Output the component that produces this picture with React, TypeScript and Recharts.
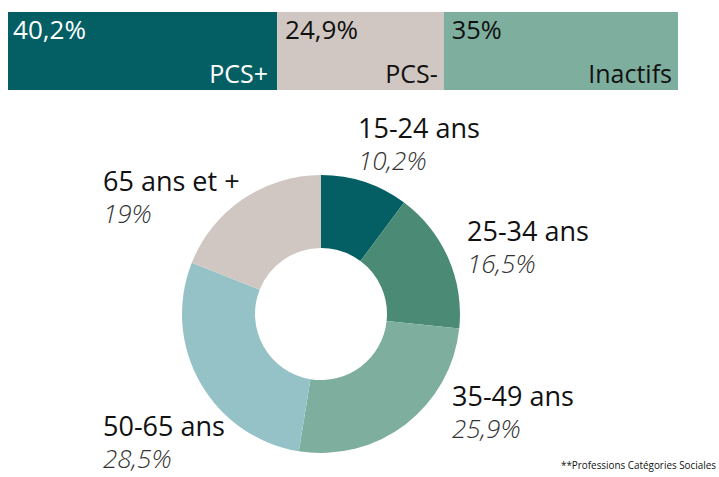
import React from 'react';
import { BarChart, Bar, XAxis, YAxis, PieChart, Pie, Cell } from 'recharts';

// top bar: PCS split
const pcsKeys = ['pcsPlus', 'pcsMinus', 'inactifs'];
const pcsNames = ['PCS+', 'PCS-', 'Inactifs'];
const pcsValues = [40.2, 24.9, 35];
const pcsLabels = ['40,2%', '24,9%', '35%'];

// donut: age groups
const ageNames = ['15-24 ans', '25-34 ans', '35-49 ans', '50-65 ans', '65 ans et +'];
const ageValues = [10.2, 16.5, 25.9, 28.5, 19];
const ageLabels = ['10,2%', '16,5%', '25,9%', '28,5%', '19%'];

const pcsColors = ['#035f63', '#d0c7c2', '#7eae9d'];
const pcsText = ['#ffffff', '#111111', '#111111'];
const ageColors = ['#035f63', '#4b8a75', '#7eae9d', '#95c2c7', '#d0c7c2'];

// label offsets from donut centre (left x, baseline y)
const labelPos = [
  { dx: 37, dy: -176 },
  { dx: 146, dy: -73 },
  { dx: 131, dy: 92 },
  { dx: -218, dy: 122 },
  { dx: -218, dy: -123 },
];

const font = '"Open Sans", "Noto Sans", sans-serif';

const barRow: any = { name: 'PCS' };
pcsKeys.forEach((k, i) => { barRow[k] = pcsValues[i]; });
const barData = [barRow];

const pieData = ageNames.map((name, i) => ({ name, value: ageValues[i] }));

const makeBarLabel = (i: number) => (props: any) => {
  const { x, y, width, height } = props;
  return (
    <g fontFamily={font} fontSize={25} fill={pcsText[i]}>
      <text x={x + (i === 0 ? 5 : 8)} y={y + 27} textLength={i === 2 ? 50 : 73} lengthAdjust="spacingAndGlyphs">{pcsLabels[i]}</text>
      <text x={x + width - (i === 0 ? 9 : 6)} y={y + height - 7} textAnchor="end">{pcsNames[i]}</text>
    </g>
  );
};

// name + italic share on two lines of one text
const renderAgeLabel = (props: any) => {
  const { cx, cy, index } = props;
  const p = labelPos[index];
  const x = cx + p.dx;
  const y = cy + p.dy;
  return (
    <text x={x} y={y} fontFamily={font} fontSize={27} fill="#111">
      <tspan x={x} y={y}>{ageNames[index]}</tspan>
      <tspan x={x} y={y + 32} fontSize={26} fontStyle="italic" fontWeight={300} fill="#333">{ageLabels[index]}</tspan>
    </text>
  );
};

export default function App() {
  return (
    <div style={{ position: 'absolute', left: 0, top: 0, width: 719, height: 477, background: '#fff', overflow: 'hidden' }}>
      <div style={{ position: 'absolute', left: 8, top: 12 }}>
        <BarChart width={670} height={78} data={barData} layout="vertical" margin={{ top: 0, right: 0, bottom: 0, left: 0 }} barCategoryGap={0}>
          <XAxis type="number" domain={[0, 'dataMax']} hide />
          <YAxis type="category" dataKey="name" hide />
          {pcsKeys.map((k, i) => (
            <Bar key={k} dataKey={k} stackId="a" fill={pcsColors[i]} isAnimationActive={false} label={makeBarLabel(i)} />
          ))}
        </BarChart>
      </div>
      <div style={{ position: 'absolute', left: 0, top: 100 }}>
        <PieChart width={719} height={377} margin={{ top: 0, right: 0, bottom: 0, left: 0 }}>
          <Pie
            data={pieData}
            dataKey="value"
            cx={321}
            cy={214}
            innerRadius={66}
            outerRadius={139}
            startAngle={90}
            endAngle={-270}
            stroke="none"
            labelLine={false}
            label={renderAgeLabel}
            isAnimationActive={false}
          >
            {pieData.map((d, i) => <Cell key={d.name} fill={ageColors[i]} />)}
          </Pie>
        </PieChart>
      </div>
      <svg style={{ position: 'absolute', left: 0, top: 454 }} width={719} height={20}>
        <text x={561} y={15} fontFamily={'"Liberation Sans Narrow", "Open Sans", sans-serif'} fontSize={10} fill="#111" textLength={155} lengthAdjust="spacingAndGlyphs">
          **Professions Catégories Sociales
        </text>
      </svg>
    </div>
  );
}
